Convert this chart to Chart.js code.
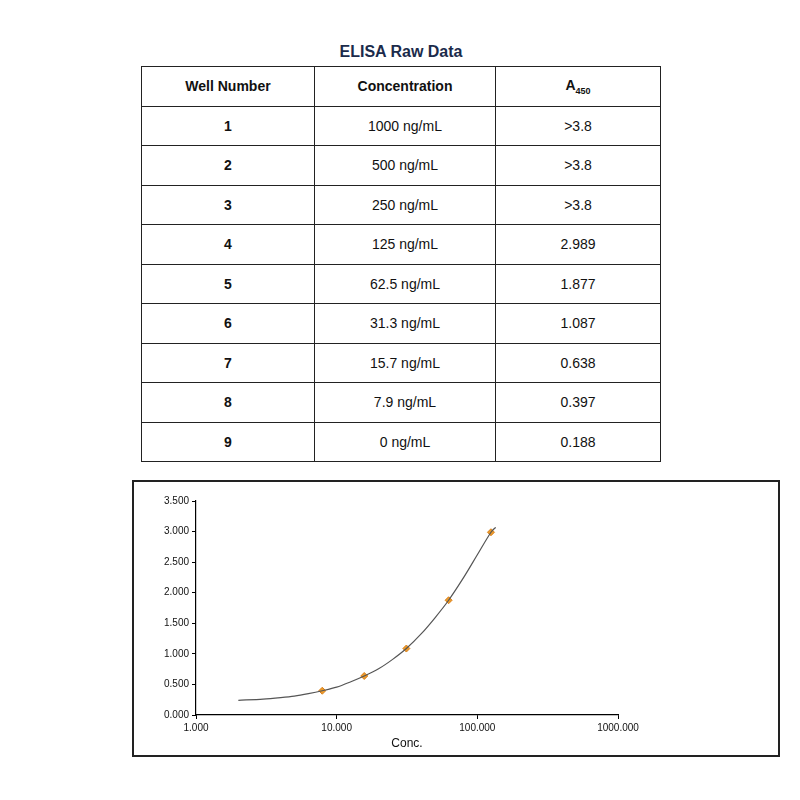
<!DOCTYPE html>
<html><head><meta charset="utf-8">
<script src="https://cdn.jsdelivr.net/npm/chart.js@4/dist/chart.umd.min.js"></script>
<style>
body{margin:0;background:#fff;font-family:"Liberation Sans",Arial,sans-serif;}
#title{position:absolute;left:141px;width:520px;top:43px;text-align:center;font-weight:bold;font-size:16px;color:#1b2b4b;}
table{position:absolute;left:141px;top:66px;width:520px;border-collapse:collapse;}
td,th{border:1.5px solid #222;height:38.5px;padding:0;text-align:center;font-size:14px;color:#111;}
th{font-weight:bold;}
td.w{font-weight:bold;}
#box{position:absolute;left:132px;top:480px;width:644px;height:273px;border:2px solid #222;}
</style></head><body>
<div id="title">ELISA Raw Data</div>
<table id="tbl"></table>
<div id="box"><canvas id="c" width="644" height="273"></canvas></div>
<script>
// --- Table Data ---
const wells = [1,2,3,4,5,6,7,8,9];
const concLabels = ["1000 ng/mL","500 ng/mL","250 ng/mL","125 ng/mL","62.5 ng/mL","31.3 ng/mL","15.7 ng/mL","7.9 ng/mL","0 ng/mL"];
const absLabels = [">3.8",">3.8",">3.8","2.989","1.877","1.087","0.638","0.397","0.188"];

// --- Chart Data ---
const pointConc = [7.9, 15.7, 31.3, 62.5, 125];
const pointAbs = [0.397, 0.638, 1.087, 1.877, 2.989];
const curveConc = [2, 3, 4, 5, 6.3, 7.9, 10, 12.5, 15.7, 20, 25, 31.3, 40, 50, 62.5, 80, 100, 125, 135];
const curveAbs = [0.24, 0.26, 0.285, 0.31, 0.35, 0.397, 0.455, 0.54, 0.638, 0.76, 0.91, 1.087, 1.33, 1.59, 1.877, 2.25, 2.62, 2.989, 3.07];
const xTicks = [1, 10, 100, 1000];

const tbl = document.getElementById('tbl');
tbl.innerHTML = '<tr><th style="width:172px">Well Number</th><th style="width:180px">Concentration</th><th>A<sub style="font-size:9px">450</sub></th></tr>';
wells.forEach((w,i)=>{
  tbl.innerHTML += `<tr><td class="w">${w}</td><td>${concLabels[i]}</td><td>${absLabels[i]}</td></tr>`;
});

const grid = {drawOnChartArea:false, tickLength:4, color:'#000'};
new Chart(document.getElementById('c'),{
  type:'scatter',
  data:{datasets:[
    {data:curveConc.map((x,i)=>({x,y:curveAbs[i]})), showLine:true, borderColor:'#555', borderWidth:1.2, pointRadius:0, tension:0.3},
    {data:pointConc.map((x,i)=>({x,y:pointAbs[i]})), pointStyle:'rectRot', pointRadius:3.5, borderWidth:1, borderColor:'#d9801a', backgroundColor:'#ec9a2a'}
  ]},
  options:{
    animation:false, responsive:false,
    layout:{padding:{top:19,right:160,bottom:0,left:10}},
    plugins:{legend:{display:false},tooltip:{enabled:false}},
    scales:{
      x:{type:'logarithmic', min:1, max:1000, grid, border:{color:'#000',width:1.2},
        afterBuildTicks:s=>{s.ticks = xTicks.map(v=>({value:v}));},
        afterFit:s=>{s.height=40;},
        ticks:{color:'#111',font:{size:10},maxRotation:0,callback:v=>Number(v).toFixed(3)},
        title:{display:true,text:'Conc.',color:'#111',font:{size:12},padding:{top:3}}},
      y:{min:0, max:3.5, grid, border:{color:'#000',width:1.2},
        afterFit:s=>{s.width=52;},
        ticks:{stepSize:0.5,color:'#111',font:{size:10},callback:v=>v.toFixed(3)}}
    }
  }
});
</script>
</body></html>
